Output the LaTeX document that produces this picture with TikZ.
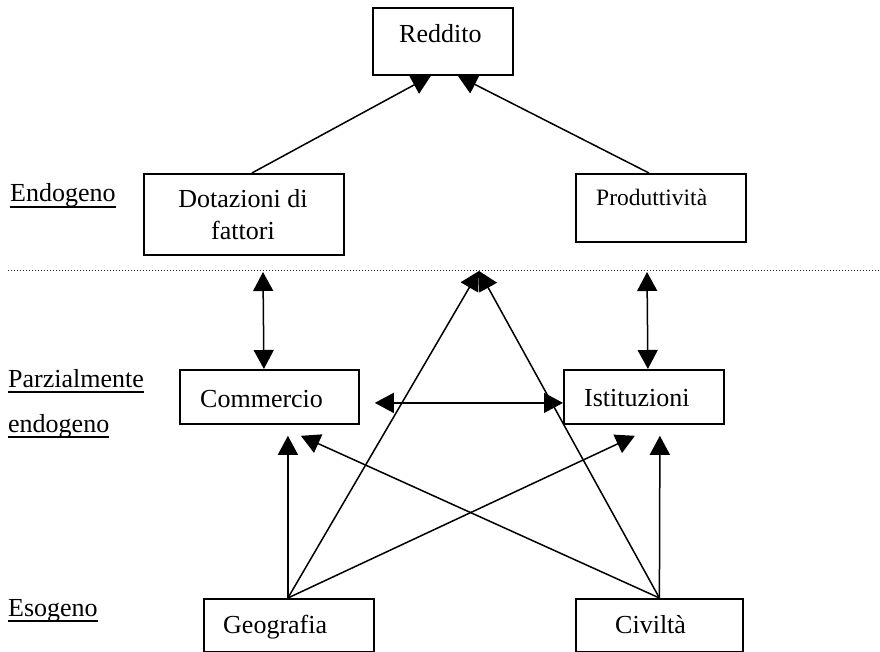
\documentclass[tikz,border=0pt]{standalone}
\usepackage{fontspec}
\setmainfont{Liberation Serif}
\usetikzlibrary{arrows.meta}
% underlined word with a fixed rule position below the baseline
\newcommand{\ulword}[1]{\setbox0\hbox{#1}\rlap{\rule[-6pt]{\wd0}{1.8pt}}\box0}
\begin{document}
\begin{tikzpicture}[x=1pt,y=-1pt,
  box/.style={draw, line width=1.8pt, fill=white, inner sep=0pt, anchor=north west},
  txt/.style={inner sep=0pt, anchor=base west, font=\fontsize{26}{32}\selectfont},
  conn/.style={line width=1.5pt},
  arr/.style={conn, -{Triangle[length=19pt,width=20pt]}},
  dblarr/.style={conn, {Triangle[length=19pt,width=20pt]}-{Triangle[length=19pt,width=20pt]}},
  sepline/.style={line width=1pt, black!85, dash pattern=on 1pt off 2pt}
]
\useasboundingbox (0,0) rectangle (880,652);

% boxes
\node[box, minimum width=140pt, minimum height=67pt] (red) at (372,7) {};
\node[box, minimum width=200pt, minimum height=81pt] (dot) at (143,173) {};
\node[box, minimum width=170pt, minimum height=68pt] (prod) at (575,173) {};
\node[box, minimum width=179pt, minimum height=54pt] (com) at (179,369) {};
\node[box, minimum width=160pt, minimum height=54pt] (ist) at (563,369) {};
\node[box, minimum width=170pt, minimum height=53pt] (geo) at (203,598) {};
\node[box, minimum width=167pt, minimum height=53pt] (civ) at (575,598) {};

% box texts
\node[txt] (redt) at (399,43) {Reddito};
\node[txt, anchor=base] (dott1) at (243,208) {Dotazioni di};
\node[txt, anchor=base] (dott2) at (243,240) {fattori};
\node[txt, font=\fontsize{23.5}{28}\selectfont] (prodt) at (596,206) {Produttività};
\node[txt] (comt) at (200,407) {Commercio};
\node[txt] (istt) at (584,406) {Istituzioni};
\node[txt] (geot) at (223,633) {Geografia};
\node[txt] (civt) at (615,633) {Civiltà};

% level labels
\node[txt] (lab1) at (10,202) {\ulword{Endogeno}};
\node[txt] (lab2) at (8,387) {\ulword{Parzialmente}};
\node[txt] (lab3) at (8,432) {\ulword{endogeno}};
\node[txt] (lab4) at (8,616) {\ulword{Esogeno}};

% separator between endogenous and other levels
\coordinate (sepL) at (8,270);
\coordinate (sepR) at (880,270);
\draw[sepline] (sepL) -- (sepR);

% free ends just below the separator
\coordinate (apex) at (479,271);
\coordinate (dctop) at (263,272);
\coordinate (pitop) at (647,272);

% endogenous level
\draw[arr] ([shift={(8,0)}]dot.north) -- ([shift={(-12,0)}]red.south);
\draw[arr] ([shift={(-12,0)}]prod.north) -- ([shift={(15,0)}]red.south);

% partially endogenous level
\draw[dblarr] (dctop) -- ([shift={(-5.5,0)}]com.north);
\draw[dblarr] (pitop) -- ([shift={(4,0)}]ist.north);
\draw[dblarr] ([shift={(15,6)}]com.east) -- ([shift={(0,6)}]ist.west);

% exogenous level
\draw[arr] ([shift={(-1,0)}]geo.north) -- ([shift={(18.5,11)}]com.south);
\draw[arr] ([shift={(-1,0)}]geo.north) -- ([shift={(-9,11)}]ist.south);
\draw[arr] ([shift={(-1,0)}]geo.north) -- (apex);
\draw[arr] (civ.north) -- ([shift={(16,11)}]ist.south);
\draw[arr] (civ.north) -- ([shift={(31.5,11)}]com.south);
\draw[arr] (civ.north) -- (apex);
\end{tikzpicture}
\end{document}
